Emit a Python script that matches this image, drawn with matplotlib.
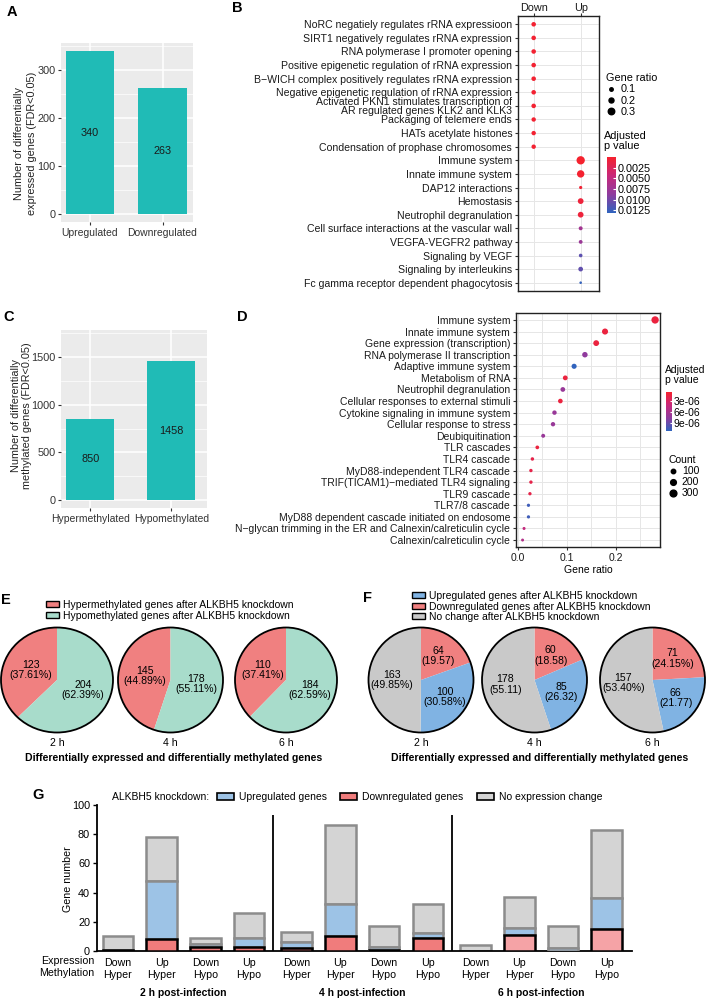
import numpy as np
import matplotlib
matplotlib.use('Agg')
import matplotlib.pyplot as plt
from matplotlib.colors import LinearSegmentedColormap, Normalize
from matplotlib.cm import ScalarMappable
from matplotlib.patches import Patch, Circle
from matplotlib.lines import Line2D

plt.rcParams['font.family'] = ['Liberation Sans', 'DejaVu Sans']
plt.rcParams['font.size'] = 7.5

# ---- data ----
a_cats = ['Upregulated', 'Downregulated']
a_vals = [340, 263]

c_cats = ['Hypermethylated', 'Hypomethylated']
c_vals = [850, 1458]

b_terms = ['NoRC negatiely regulates rRNA expressioon',
           'SIRT1 negatively regulates rRNA expression',
           'RNA polymerase I promoter opening',
           'Positive epigenetic regulation of rRNA expression',
           'B\u2212WICH complex positively regulates rRNA expression',
           'Negative epigenetic regulation of rRNA expression',
           'Activated PKN1 stimulates transcription of\nAR regulated genes KLK2 and KLK3',
           'Packaging of telemere ends',
           'HATs acetylate histones',
           'Condensation of prophase chromosomes',
           'Immune system',
           'Innate immune system',
           'DAP12 interactions',
           'Hemostasis',
           'Neutrophil degranulation',
           'Cell surface interactions at the vascular wall',
           'VEGFA-VEGFR2 pathway',
           'Signaling by VEGF',
           'Signaling by interleukins',
           'Fc gamma receptor dependent phagocytosis']
b_group = ['Down'] * 10 + ['Up'] * 10
b_ratio = [0.17, 0.17, 0.17, 0.17, 0.17, 0.17, 0.17, 0.16, 0.16, 0.16,
           0.42, 0.36, 0.08, 0.25, 0.25, 0.13, 0.12, 0.11, 0.18, 0.04]
b_padj = [0.0003] * 10 + [0.0001, 0.0002, 0.0005, 0.0008, 0.0008,
                          0.0072, 0.0078, 0.0110, 0.0108, 0.0128]

d_terms = ['Immune system', 'Innate immune system', 'Gene expression (transcription)',
           'RNA polymerase II transcription', 'Adaptive immune system', 'Metabolism of RNA',
           'Neutrophil degranulation', 'Cellular responses to external stimuli',
           'Cytokine signaling in immune system', 'Cellular response to stress',
           'Deubiquitination', 'TLR cascades', 'TLR4 cascade', 'MyD88-independent TLR4 cascade',
           'TRIF(TICAM1)\u2212mediated TLR4 signaling', 'TLR9 cascade', 'TLR7/8 cascade',
           'MyD88 dependent cascade initiated on endosome',
           'N\u2212glycan trimming in the ER and Calnexin/calreticulin cycle',
           'Calnexin/calreticulin cycle']
d_ratio = [0.280, 0.178, 0.160, 0.137, 0.115, 0.097, 0.092, 0.087, 0.075, 0.072,
           0.052, 0.040, 0.030, 0.027, 0.027, 0.025, 0.022, 0.022, 0.013, 0.010]
d_count = [361, 230, 206, 177, 148, 125, 119, 112, 97, 93,
           67, 52, 39, 35, 35, 32, 28, 28, 17, 13]
d_padj = [1.5e-06, 1.5e-06, 1.5e-06, 7.5e-06, 1.1e-05, 1.5e-06, 7e-06, 1.5e-06, 7e-06, 7e-06,
          7e-06, 1.5e-06, 2e-06, 2e-06, 2e-06, 2e-06, 1.05e-05, 1.05e-05, 4.5e-06, 5.5e-06]

pie_times = ['2 h', '4 h', '6 h']
e_hyper = [123, 145, 110]
e_hypo = [204, 178, 184]
e_hyper_lab = ['123\n(37.61%)', '145\n(44.89%)', '110\n(37.41%)']
e_hypo_lab = ['204\n(62.39%)', '178\n(55.11%)', '184\n(62.59%)']

f_down = [64, 60, 71]
f_up = [100, 85, 66]
f_none = [163, 178, 157]
f_down_lab = ['64\n(19.57)', '60\n(18.58)', '71\n(24.15%)']
f_up_lab = ['100\n(30.58%)', '85\n(26.32)', '66\n(21.77)']
f_none_lab = ['163\n(49.85%)', '178\n(55.11)', '157\n(53.40%)']

g_groups = ['2 h post-infection', '4 h post-infection', '6 h post-infection']
g_expr = ['Down', 'Up', 'Down', 'Up']
g_meth = ['Hyper', 'Hyper', 'Hypo', 'Hypo']
g_down = [1, 8, 3, 3, 2, 10, 1, 9, 0, 11, 0, 15]
g_up = [0, 40, 2, 6, 4, 22, 2, 3, 0, 5, 2, 21]
g_none = [9, 30, 4, 17, 7, 54, 14, 20, 4, 21, 15, 47]

# ---- colours ----
TEAL = '#20BBB6'
RED = '#F08080'
GREEN = '#A8DCCB'
BLUE = '#80B3E3'
GREY = '#C9C9C9'
cmap = LinearSegmentedColormap.from_list('rb', ['#F5222E', '#C8287A', '#8E3C9E', '#2F64BE'])

W, H = 707, 999
fig = plt.figure(figsize=(W / 100, H / 100), dpi=100)


def box(x0, y0, x1, y1):
    return fig.add_axes([x0 / W, 1 - y1 / H, (x1 - x0) / W, (y1 - y0) / H])


def gg_bars(ax, cats, vals, width, ylim, major, minor, xlim, ylabel, lsp, lab_xy):
    ax.set_facecolor('#EBEBEB')
    for s in ax.spines.values():
        s.set_visible(False)
    xs = np.arange(1, len(cats) + 1)
    ax.bar(xs, vals, width=width, color=TEAL, zorder=3)
    for x, v in zip(xs, vals):
        ax.text(x, v / 2, str(v), ha='center', va='center', zorder=4, color='#1a1a1a', fontsize=7.8)
    ax.set_xlim(*xlim)
    ax.set_ylim(*ylim)
    ax.set_xticks(xs, cats)
    ax.set_yticks(major)
    ax.set_yticks(minor, minor=True)
    ax.grid(True, which='major', color='white', lw=1.1, zorder=0)
    ax.grid(True, which='minor', axis='y', color='white', lw=0.5, zorder=0)
    ax.tick_params(which='major', length=2, color='#333333', labelcolor='#333333', pad=2,
                   labelsize=7.8)
    ax.tick_params(axis='x', labelsize=7.5)
    ax.tick_params(which='minor', length=0)
    ax.set_ylabel(ylabel, color='#222222', linespacing=lsp, fontsize=7.8)
    ax.yaxis.set_label_coords(*lab_xy)


# ---- A ----
ax = box(61, 43, 193, 222)
gg_bars(ax, a_cats, a_vals, 0.67, (-17, 357), [0, 100, 200, 300], [50, 150, 250, 350],
        (0.6, 2.42), 'Number of differentially\nexpressed genes (FDR<0.05)', 1.35, (-0.18, 0.44))

# ---- C ----
ax = box(61, 330, 207, 508)
gg_bars(ax, c_cats, c_vals, 0.59, (-85, 1785), [0, 500, 1000, 1500], [250, 750, 1250, 1750],
        (0.64, 2.44), 'Number of differentially\nmethylated genes (FDR<0.05)', 1.1, (-0.2, 0.52))


def dot_frame(ax):
    for s in ax.spines.values():
        s.set_color('#222222')
        s.set_linewidth(1.0)
    ax.grid(True, which='both', color='#E6E6E6', lw=0.7, zorder=0)
    ax.set_axisbelow(True)
    ax.tick_params(length=2, color='#333333', labelcolor='#1a1a1a', pad=2)


def dsize(d_px):
    return (d_px * 0.72) ** 2


def bdiam(r):
    return 2.0 + 15 * r


# ---- B ----
ax = box(517.7, 16, 599, 291)
dot_frame(ax)
bx = [1 if g == 'Down' else 2 for g in b_group]
by = np.arange(1, len(b_terms) + 1)
bnorm = Normalize(0.00005, 0.0131)
ax.scatter(bx, by, s=[dsize(bdiam(r)) for r in b_ratio], c=b_padj, cmap=cmap, norm=bnorm,
           zorder=3, linewidths=0)
ax.set_xlim(0.66, 2.39)
ax.set_ylim(20.61, 0.39)
ax.set_xticks([1, 2], ['Down', 'Up'], fontsize=7.8)
ax.xaxis.tick_top()
ax.tick_params(axis='x', pad=0.5)
ax.set_yticks(by, b_terms, fontsize=7.6)
for t in ax.get_yticklabels():
    t.set_linespacing(0.85)

hb = [Line2D([], [], marker='o', ls='', color='black', markersize=bdiam(r) * 0.72)
      for r in [0.1, 0.2, 0.3]]
fig.legend(hb, ['0.1', '0.2', '0.3'], title='Gene ratio', loc='upper left',
           bbox_to_anchor=(601 / W, 1 - 68 / H), frameon=False, alignment='left',
           handlelength=0.9, handletextpad=0.4, labelspacing=0.1, borderpad=0,
           title_fontsize=7.8, fontsize=7.8)
fig.text(604 / W, 1 - 131 / H, 'Adjusted\np value', va='top', ha='left', linespacing=1.0,
         fontsize=7.8)
cax = box(606.7, 157, 616, 213)
cb = fig.colorbar(ScalarMappable(bnorm, cmap), cax=cax)
cax.invert_yaxis()
cb.set_ticks([0.0025, 0.0050, 0.0075, 0.0100, 0.0125])
cb.set_ticklabels(['0.0025', '0.0050', '0.0075', '0.0100', '0.0125'])
cb.outline.set_visible(False)
cax.tick_params(length=2, color='white', direction='in', pad=1.5, labelsize=7.8)

# ---- D ----
ax = box(515.7, 313, 660, 547)
dot_frame(ax)
dy = np.arange(1, len(d_terms) + 1)
dnorm = Normalize(7e-07, 1.11e-05)
ax.scatter(d_ratio, dy, s=[dsize(np.sqrt(7 + 0.13 * c)) for c in d_count], c=d_padj,
           cmap=cmap, norm=dnorm, zorder=3, linewidths=0)
ax.set_xlim(-0.004, 0.29)
ax.set_ylim(20.6, 0.4)
ax.set_xticks([0, 0.1, 0.2], ['0.0', '0.1', '0.2'])
ax.set_xticks([0.05, 0.15, 0.25], minor=True)
ax.tick_params(which='minor', length=0)
ax.set_yticks(dy, d_terms)
ax.set_xlabel('Gene ratio', labelpad=2)

fig.text(665 / W, 1 - 365 / H, 'Adjusted\np value', va='top', ha='left', linespacing=1.0)
cax = box(665.7, 392, 671.7, 431)
cb = fig.colorbar(ScalarMappable(dnorm, cmap), cax=cax)
cax.invert_yaxis()
cb.set_ticks([3e-06, 6e-06, 9e-06])
cb.set_ticklabels(['3e-06', '6e-06', '9e-06'])
cb.outline.set_visible(False)
cax.tick_params(length=1.5, color='white', direction='in', pad=1.5, labelsize=7.5)

hd = [Line2D([], [], marker='o', ls='', color='black', markersize=np.sqrt(7 + 0.13 * c) * 0.72)
      for c in [100, 200, 300]]
fig.legend(hd, ['100', '200', '300'], title='Count', loc='upper left',
           bbox_to_anchor=(663 / W, 1 - 450 / H), frameon=False, alignment='left',
           handlelength=0.9, handletextpad=0.4, labelspacing=0.1, borderpad=0,
           title_fontsize=7.5, fontsize=7.5)


# ---- pies ----
def pie(cx, cy, rx, ry, vals, cols, labs, counterclock, rlab):
    pax = box(cx - rx, cy - ry, cx + rx, cy + ry)
    wedges, _ = pax.pie(vals, colors=cols, startangle=90, counterclock=counterclock,
                        wedgeprops=dict(linewidth=0))
    pax.set_aspect('auto')
    pax.set_xlim(-1, 1)
    pax.set_ylim(-1, 1)
    pax.add_patch(Circle((0, 0), 1, fill=False, ec='black', lw=1.3, clip_on=False))
    for w, lab in zip(wedges, labs):
        ang = np.deg2rad((w.theta1 + w.theta2) / 2)
        pax.text(rlab * np.cos(ang), rlab * np.sin(ang), lab, ha='center', va='center',
                 linespacing=1.05, fontsize=7.6)
    pax.axis('off')


e_cx = [57, 170.5, 286]
e_rx = [56, 52.5, 51]
for i in range(3):
    pie(e_cx[i], 680, e_rx[i], 52.5, [e_hyper[i], e_hypo[i]], [RED, GREEN],
        [e_hyper_lab[i], e_hypo_lab[i]], True, 0.5)
    fig.text(e_cx[i] / W, 1 - 743 / H, pie_times[i], ha='center', va='center', fontsize=7.6)
fig.text(174 / W, 1 - 758 / H, 'Differentially expressed and differentially methylated genes',
         ha='center', va='center', fontweight='bold', fontsize=7.6)
fig.legend([Patch(fc=RED, ec='black', lw=1), Patch(fc=GREEN, ec='black', lw=1)],
           ['Hypermethylated genes after ALKBH5 knockdown',
            'Hypomethylated genes after ALKBH5 knockdown'],
           loc='upper left', bbox_to_anchor=(46 / W, 1 - 600 / H), frameon=False,
           handlelength=1.25, handleheight=0.5, handletextpad=0.4, labelspacing=0.08,
           borderpad=0, borderaxespad=0, fontsize=7.5)

f_cx = [421, 534.5, 652.5]
for i in range(3):
    pie(f_cx[i], 680, 52.5, 52.5, [f_down[i], f_up[i], f_none[i]], [RED, BLUE, GREY],
        [f_down_lab[i], f_up_lab[i], f_none_lab[i]], False, 0.56)
    fig.text(f_cx[i] / W, 1 - 743 / H, pie_times[i], ha='center', va='center', fontsize=7.6)
fig.text(540 / W, 1 - 758 / H, 'Differentially expressed and differentially methylated genes',
         ha='center', va='center', fontweight='bold', fontsize=7.6)
fig.legend([Patch(fc=BLUE, ec='black', lw=1), Patch(fc=RED, ec='black', lw=1),
            Patch(fc=GREY, ec='black', lw=1)],
           ['Upregulated genes after ALKBH5 knockdown',
            'Downregulated genes after ALKBH5 knockdown',
            'No change after ALKBH5 knockdown'],
           loc='upper left', bbox_to_anchor=(412 / W, 1 - 591 / H), frameon=False,
           handlelength=1.25, handleheight=0.5, handletextpad=0.4, labelspacing=0.05,
           borderpad=0, borderaxespad=0, fontsize=7.5)

# ---- G ----
ax = box(97, 805, 632, 951)
pos = np.concatenate([np.arange(4) + g * 4.09 for g in range(3)])
g_red = ['#F07C7C'] * 8 + ['#F5A3A6'] * 4
g_blue = '#9DC3E6'
g_grey = '#D4D4D4'
EDGE = '#8C8C8C'
for i, x in enumerate(pos):
    d, u, n = g_down[i], g_up[i], g_none[i]
    if n > 0:
        ax.bar(x, n, bottom=d + u, width=0.7, color=g_grey, ec=EDGE, lw=1.8, zorder=2)
    if u > 0:
        ax.bar(x, u, bottom=d, width=0.7, color=g_blue, ec=EDGE, lw=1.8, zorder=3)
    if d > 0:
        ax.bar(x, d, width=0.7, color=g_red[i], ec='black', lw=1.8, zorder=4)
seps = [(pos[3] + pos[4]) / 2, (pos[7] + pos[8]) / 2]
ax.vlines(seps, 0, 93, color='black', lw=1.3, zorder=5)
ax.set_xlim(-0.48, 11.76)
ax.set_ylim(0, 100)
ax.set_yticks([0, 20, 40, 60, 80, 100])
ax.set_xticks(pos, [f'{e}\n{m}' for e, m in zip(g_expr * 3, g_meth * 3)], fontsize=7.7)
ax.tick_params(axis='x', length=0, pad=5)
ax.tick_params(axis='y', length=3, width=1, pad=2, labelsize=7.8)
for s in ['top', 'right']:
    ax.spines[s].set_visible(False)
for s in ['left', 'bottom']:
    ax.spines[s].set_linewidth(1.3)
ax.set_ylabel('Gene number', fontsize=7.7)
ax.yaxis.set_label_coords(-0.045, 0.49)
for g in range(3):
    ax.text(pos[4 * g:4 * g + 4].mean(), -0.288, g_groups[g], transform=ax.get_xaxis_transform(),
            ha='center', va='center', fontweight='bold', fontsize=7.5)
fig.text(94 / W, 1 - 956 / H, 'Expression\nMethylation', ha='right', va='top', fontsize=7.7)
fig.text(112 / W, 1 - 797 / H, 'ALKBH5 knockdown:', va='center', fontsize=7.5)
fig.legend([Patch(fc=g_blue, ec='black', lw=1.2), Patch(fc='#F07C7C', ec='black', lw=1.2),
            Patch(fc=g_grey, ec='black', lw=1.2)],
           ['Upregulated genes', 'Downregulated genes', 'No expression change'],
           loc='center left', bbox_to_anchor=(217 / W, 1 - 797 / H), ncol=3, frameon=False,
           handlelength=1.6, handleheight=0.7, handletextpad=0.5, columnspacing=1.3,
           borderpad=0, borderaxespad=0, fontsize=7.5)

# ---- panel letters ----
for lab, x, y in [('A', 12, 12), ('B', 237, 8), ('C', 9, 317), ('D', 242, 317),
                  ('E', 6, 600), ('F', 368, 598), ('G', 38, 795)]:
    fig.text(x / W, 1 - y / H, lab, fontsize=10.5, fontweight='bold', ha='center', va='center')

fig.savefig('out.png', dpi=100)
